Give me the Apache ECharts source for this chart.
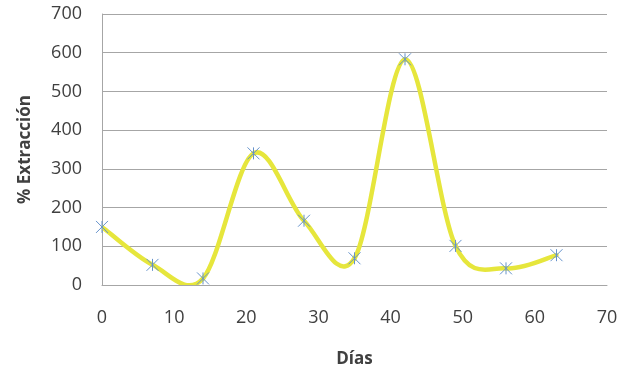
<!DOCTYPE html>
<html>
<head>
<meta charset="utf-8">
<script src="https://cdn.jsdelivr.net/npm/echarts@6/dist/echarts.min.js"></script>
<style>
  html, body { margin: 0; padding: 0; background: #fff; }
  #chart { width: 629px; height: 373px; }
</style>
</head>
<body>
<div id="chart"></div>
<script>
// Sampling days and extraction percentage at each day
const dias = [0, 7, 14, 21, 28, 35, 42, 49, 56, 63];
const extraccion = [150, 52, 17, 340, 166, 69, 583, 101, 43, 77];

const xTicks = { min: 0, max: 70, interval: 10 };
const yTicks = { min: 0, max: 700, interval: 100 };

// Asterisk marker: X with a vertical stroke
const asterisk = 'path://M0,0L10,10M10,0L0,10M5,0L5,10';

const textColor = '#404040';
const gridColor = '#a6a6a6';
const lineColor = '#e6e63c';
const markerColor = '#6592cb';
const fontFamily = '"Open Sans", "DejaVu Sans", sans-serif';

const points = dias.map((d, i) => [d, extraccion[i]]);

// Smoothed curve: each item draws the Catmull-Rom segment from point i to i+1,
// with control points taken from the neighbouring points in pixel space.
function renderSegment(params, api) {
  const i = params.dataIndex;
  if (i >= points.length - 1) return null;
  const c = (k) => api.coord(points[Math.max(0, Math.min(points.length - 1, k))]);
  const p0 = c(i - 1), p1 = c(i), p2 = c(i + 1), p3 = c(i + 2);
  return {
    type: 'bezierCurve',
    shape: {
      x1: p1[0], y1: p1[1],
      x2: p2[0], y2: p2[1],
      cpx1: p1[0] + (p2[0] - p0[0]) / 6,
      cpy1: p1[1] + (p2[1] - p0[1]) / 6,
      cpx2: p2[0] - (p3[0] - p1[0]) / 6,
      cpy2: p2[1] - (p3[1] - p1[1]) / 6
    },
    style: { stroke: lineColor, lineWidth: 4.5, fill: null, lineCap: 'round' }
  };
}

const chart = echarts.init(document.getElementById('chart'));
chart.setOption({
  animation: false,
  grid: { left: 102, right: 22, top: 14, bottom: 88 },
  xAxis: {
    type: 'value',
    min: xTicks.min, max: xTicks.max, interval: xTicks.interval,
    name: 'Días',
    nameLocation: 'middle',
    nameGap: 66,
    nameTextStyle: { color: textColor, fontSize: 17, fontWeight: 'bold', fontFamily },
    axisLine: { show: true, lineStyle: { color: gridColor, width: 1 } },
    axisTick: { show: false },
    axisLabel: { color: textColor, fontSize: 18, margin: 24, fontFamily },
    splitLine: { show: false }
  },
  yAxis: {
    type: 'value',
    min: yTicks.min, max: yTicks.max, interval: yTicks.interval,
    name: '% Extracción',
    nameLocation: 'middle',
    nameGap: 68,
    nameRotate: 90,
    nameTextStyle: { color: textColor, fontSize: 17, fontWeight: 'bold', fontFamily },
    axisLine: { show: true, lineStyle: { color: gridColor, width: 1 } },
    axisTick: { show: false },
    axisLabel: { color: textColor, fontSize: 18, margin: 20, fontFamily },
    splitLine: { show: true, lineStyle: { color: gridColor, width: 1 } }
  },
  series: [
    {
      type: 'custom',
      data: points,
      renderItem: renderSegment,
      clip: true,
      z: 2
    },
    {
      type: 'scatter',
      data: points,
      symbol: asterisk,
      symbolSize: 12,
      itemStyle: { color: 'rgba(0,0,0,0)', borderColor: markerColor, borderWidth: 1, opacity: 1 },
      z: 3
    }
  ]
});
</script>
</body>
</html>
